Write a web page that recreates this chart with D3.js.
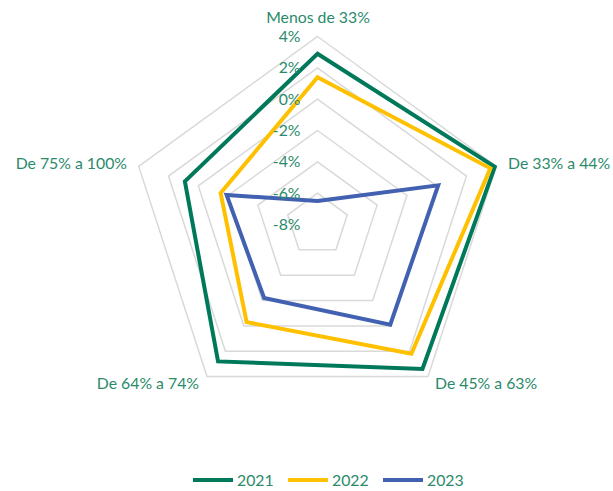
<!DOCTYPE html>
<html>
<head>
<meta charset="utf-8">
<script src="https://cdn.jsdelivr.net/npm/d3@7"></script>
<style>
  html, body { margin: 0; padding: 0; background: #fff; }
  svg text { font-family: Lato, "Open Sans", sans-serif; }
</style>
</head>
<body>
<svg id="chart" width="613" height="491"></svg>
<script>
// Radar axes, clockwise from the top
const categories = ["Menos de 33%", "De 33% a 44%", "De 45% a 63%", "De 64% a 74%", "De 75% a 100%"];

// Percent values per year, one per category
const years = ["2021", "2022", "2023"];
const values2021 = [2.9, 3.9, 3.4, 2.8, 0.9];
const values2022 = [1.4, 3.6, 2.2, -0.3, -1.5];
const values2023 = [-6.5, 0.1, -0.1, -2.2, -1.9];

// Radial tick values and labels
const tickValues = [4, 2, 0, -2, -4, -6, -8];
const tickLabels = ["4%", "2%", "0%", "-2%", "-4%", "-6%", "-8%"];

const seriesColors = ["#00785A", "#FFC000", "#4262B1"];
const textColor = "#2A8A6A";
const fontSize = 15.8;

const svg = d3.select("#chart");
const cx = 317.5, cy = 224.5, R = 188;

const r = d3.scaleLinear().domain([-8, 4]).range([0, R]);
const angle = d3.scalePoint().domain(categories).range([0, 2 * Math.PI * 4 / 5]);

const pt = (cat, v) => {
  const a = angle(cat) - Math.PI / 2;
  return [cx + r(v) * Math.cos(a), cy + r(v) * Math.sin(a)];
};

const g = svg.append("g");

// Grid rings
const ringLine = d3.line();
tickValues.filter(v => v > -8).forEach(v => {
  const pts = categories.map(c => pt(c, v));
  g.append("path")
    .attr("d", ringLine(pts) + "Z")
    .attr("fill", "none")
    .attr("stroke", "#D9D9D9")
    .attr("stroke-width", 1.5);
});

// Series polygons
const series = [values2021, values2022, values2023];
series.forEach((vals, i) => {
  const pts = categories.map((c, j) => pt(c, vals[j]));
  g.append("path")
    .attr("d", ringLine(pts) + "Z")
    .attr("fill", "none")
    .attr("stroke", seriesColors[i])
    .attr("stroke-width", 4)
    .attr("stroke-linejoin", "miter");
});

// Radial tick labels
g.selectAll(".tick")
  .data(tickValues)
  .join("text")
  .attr("x", cx - 17)
  .attr("y", v => cy - r(v))
  .attr("dy", "0.35em")
  .attr("text-anchor", "end")
  .attr("font-size", fontSize)
  .attr("fill", textColor)
  .text((v, i) => tickLabels[i]);

// Category labels
const labelPos = [
  { x: 318, y: 17, anchor: "middle" },
  { x: 508, y: 163, anchor: "start" },
  { x: 435, y: 383, anchor: "start" },
  { x: 199, y: 383, anchor: "end" },
  { x: 127, y: 163, anchor: "end" }
];
categories.forEach((c, i) => {
  g.append("text")
    .attr("x", labelPos[i].x)
    .attr("y", labelPos[i].y)
    .attr("dy", "0.35em")
    .attr("text-anchor", labelPos[i].anchor)
    .attr("font-size", fontSize)
    .attr("fill", textColor)
    .text(c);
});

// Legend
const legend = svg.append("g").attr("transform", "translate(193,480)");
const legendX = [0, 95, 190];
years.forEach((y, i) => {
  const lg = legend.append("g").attr("transform", `translate(${legendX[i]},0)`);
  lg.append("line")
    .attr("x1", 0).attr("x2", 40)
    .attr("stroke", seriesColors[i])
    .attr("stroke-width", 4);
  lg.append("text")
    .attr("x", 44)
    .attr("dy", "0.35em")
    .attr("font-size", fontSize)
    .attr("fill", textColor)
    .text(y);
});
</script>
</body>
</html>
